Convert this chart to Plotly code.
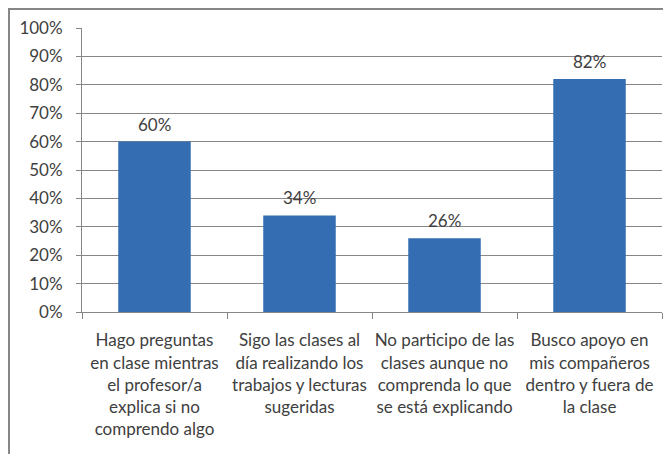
import plotly.graph_objects as go

# data
categorias = [
    "Hago preguntas<br>en clase mientras<br>el profesor/a<br>explica si no<br>comprendo algo",
    "Sigo las clases al<br>día realizando los<br>trabajos y lecturas<br>sugeridas",
    "No participo de las<br>clases aunque no<br>comprenda lo que<br>se está explicando",
    "Busco apoyo en<br>mis compañeros<br>dentro y fuera de<br>la clase",
]
valores = [0.60, 0.34, 0.26, 0.82]
etiquetas = ["60%", "34%", "26%", "82%"]

GRIS = "#868686"
TEXTO = "#404040"
AZUL = "#346db2"

fig = go.Figure()

fig.add_trace(
    go.Bar(
        x=categorias,
        y=valores,
        marker=dict(color=AZUL, line=dict(width=0)),
        width=0.5,
    )
)

# value labels above the bars
for cat, val, lab in zip(categorias, valores, etiquetas):
    fig.add_annotation(
        x=cat, y=val, text=lab,
        showarrow=False,
        yanchor="bottom",
        yshift=5,
        font=dict(size=17, color=TEXTO),
    )

fig.update_xaxes(
    automargin=False,
    showgrid=False,
    showline=True,
    linecolor=GRIS,
    linewidth=1,
    ticks="outside",
    tickson="boundaries",
    ticklen=6,
    tickcolor=GRIS,
    tickangle=0,
    ticklabelstandoff=13,
    tickfont=dict(size=17, color=TEXTO),
)

fig.update_yaxes(
    automargin=False,
    range=[0, 1],
    dtick=0.1,
    tickformat=".0%",
    showgrid=True,
    gridcolor=GRIS,
    gridwidth=1,
    showline=True,
    linecolor=GRIS,
    linewidth=1,
    ticks="outside",
    ticklen=5,
    tickcolor=GRIS,
    ticklabelstandoff=10,
    tickfont=dict(size=17, color=TEXTO),
    zeroline=False,
)

# outer chart border (cut off on the right and bottom like the original)
fig.add_shape(
    type="rect",
    xref="paper", yref="paper",
    x0=-0.1259, x1=1.05,
    y0=-0.6, y1=1.0669,
    line=dict(color=GRIS, width=2),
    layer="below",
)

# page body adds 8px around the figure, so the figure is made 8px smaller
fig.update_layout(
    width=663,
    height=446,
    margin=dict(l=74, r=9, t=20, b=142),
    plot_bgcolor="white",
    paper_bgcolor="white",
    font=dict(family="Lato, Open Sans, sans-serif", color=TEXTO),
    showlegend=False,
    bargap=0.5,
)

fig.write_html("out.html")
